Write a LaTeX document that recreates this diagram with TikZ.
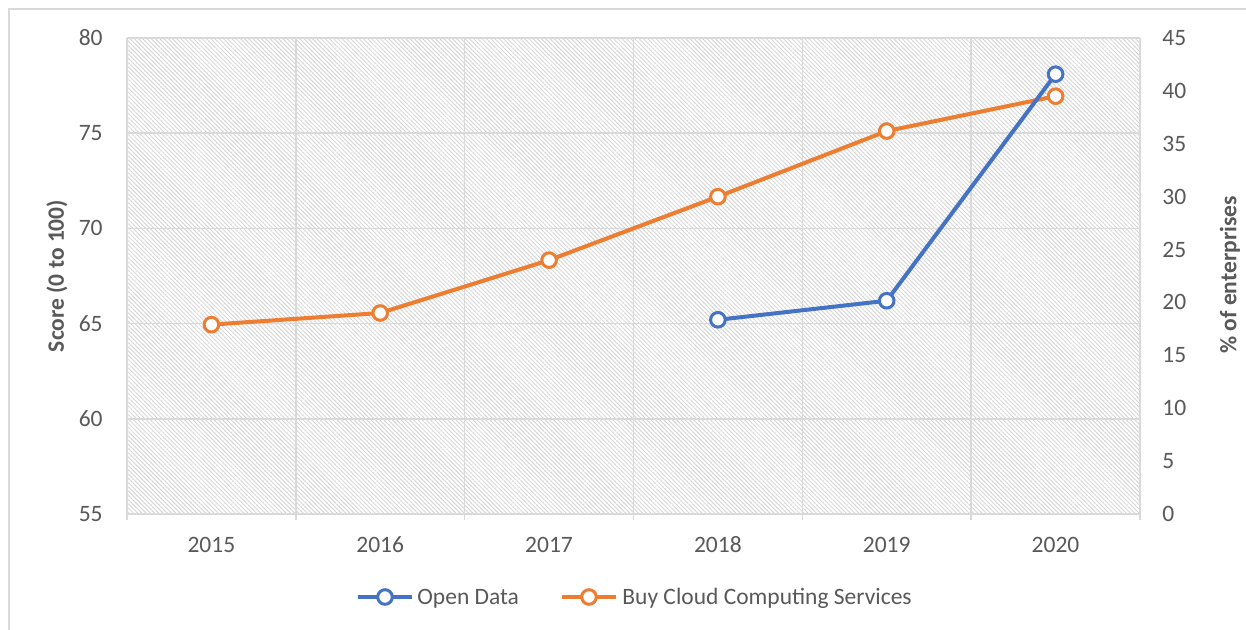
\documentclass[tikz,border=0pt]{standalone}
\usepackage{fontspec}
\setmainfont{Carlito}
\usetikzlibrary{patterns.meta}
\definecolor{txt}{HTML}{595959}
\definecolor{gridc}{HTML}{D9D9D9}
\definecolor{hatchc}{HTML}{D2D2D2}
\definecolor{sblue}{HTML}{4472C4}
\definecolor{sorange}{HTML}{ED7D31}

\begin{document}
\begin{tikzpicture}[x=0.5pt,y=-0.5pt,
  lbl/.style={text=txt,font=\fontsize{11.75}{14}\selectfont,inner sep=0pt},
  ttl/.style={lbl,font=\fontsize{11.75}{14}\selectfont\bfseries,rotate=90},
  gridline/.style={draw=gridc,line width=0.75pt},
  serblue/.style={draw=sblue,line width=2pt,line join=round,line cap=round},
  serorange/.style={draw=sorange,line width=2pt,line join=round,line cap=round},
  bmark/.style={circle,draw=sblue,fill=white,line width=1.5pt,minimum size=7.3pt,inner sep=0pt},
  omark/.style={circle,draw=sorange,fill=white,line width=1.5pt,minimum size=7.3pt,inner sep=0pt}]
\useasboundingbox (0,0) rectangle (1246,630);
\fill[white] (0,0) rectangle (1246,630);
% chart frame (left and top edges)
\draw[gridline] (9,630) -- (9,9) -- (1246,9);

% hatched plot area
\fill[pattern={Lines[angle=-45,distance=1.5pt,line width=0.4pt]},pattern color=hatchc]
  (127,38) rectangle (1140,514);

% horizontal gridlines and left axis labels
\foreach \v in {55,60,...,80}{
  \draw[gridline] (127,{38+(80-\v)*19.04}) -- (1140,{38+(80-\v)*19.04});
  \node[lbl,anchor=east] (yl\v) at (103,{38+(80-\v)*19.04}) {\v};
}
% vertical gridlines with ticks below the axis
\foreach \i in {0,...,6}{
  \draw[gridline] ({127+\i*168.83},38) -- ({127+\i*168.83},520);
}
% right axis labels
\foreach \p in {0,5,...,45}{
  \node[lbl,anchor=west] (yr\p) at (1162,{514-\p*10.578}) {\p};
}
% category labels
\foreach \yr [count=\i from 0] in {2015,2016,2017,2018,2019,2020}{
  \node[lbl] (x\yr) at ({211.4+\i*168.83},545) {\yr};
}

% axis titles
\node[ttl] (ltitle) at (57,276) {Score (0 to 100)};
\node[ttl] (rtitle) at (1230,275) {\% of enterprises};

% Buy Cloud Computing Services (right axis, %)
\coordinate (c15) at (211.4,{514-17.9*10.578});
\coordinate (c16) at (380.2,{514-19.0*10.578});
\coordinate (c17) at (549.1,{514-24.0*10.578});
\coordinate (c18) at (717.9,{514-30.0*10.578});
\coordinate (c19) at (886.7,{514-36.2*10.578});
\coordinate (c20) at (1055.6,{514-39.5*10.578});
% Open Data (left axis, score)
\coordinate (o18) at (717.9,{38+(80-65.2)*19.04});
\coordinate (o19) at (886.7,{38+(80-66.2)*19.04});
\coordinate (o20) at (1055.6,{38+(80-78.1)*19.04});

\draw[serorange] (c15) -- (c16) -- (c17) -- (c18) -- (c19) -- (c20);
\draw[serblue] (o18) -- (o19) -- (o20);
\foreach \c in {c15,c16,c17,c18,c19,c20}{\node[omark] (m\c) at (\c) {};}
\foreach \c in {o18,o19,o20}{\node[bmark] (m\c) at (\c) {};}

% legend
\coordinate (lb1) at (358,597);
\coordinate (lb2) at (412,597);
\draw[serblue,line cap=butt] (lb1) -- (lb2);
\node[bmark] (lbm) at (385,597) {};
\node[lbl,anchor=base west] (lbt) at (417,604.5) {Open Data};
\coordinate (lo1) at (562,597);
\coordinate (lo2) at (616,597);
\draw[serorange,line cap=butt] (lo1) -- (lo2);
\node[omark] (lom) at (589,597) {};
\node[lbl,anchor=base west] (lot) at (622,604.5) {Buy Cloud Computing Services};
\end{tikzpicture}
\end{document}
